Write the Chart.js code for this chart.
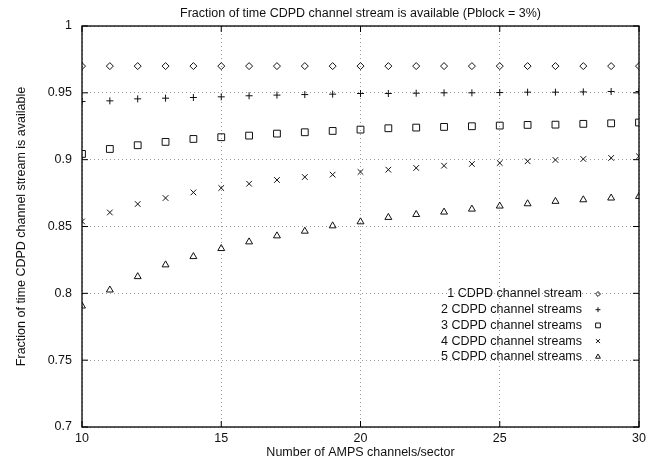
<!DOCTYPE html>
<html><head><meta charset="utf-8">
<script src="https://cdn.jsdelivr.net/npm/chart.js@4/dist/chart.umd.min.js"></script>
<style>html,body{margin:0;padding:0;background:#fff}</style>
</head><body>
<canvas id="c" width="657" height="463" style="width:657px;height:463px"></canvas>
<script>
const channels = [10,11,12,13,14,15,16,17,18,19,20,21,22,23,24,25,26,27,28,29,30];
const oneStream   = [0.970,0.970,0.970,0.970,0.970,0.970,0.970,0.970,0.970,0.970,0.970,0.970,0.970,0.970,0.970,0.970,0.970,0.970,0.970,0.970,0.970];
const twoStreams  = [0.9435,0.944,0.9455,0.946,0.9465,0.947,0.9478,0.9483,0.9487,0.949,0.9495,0.9495,0.9497,0.950,0.950,0.9502,0.9505,0.9505,0.9507,0.951,0.951];
const threeStreams= [0.9043,0.908,0.9108,0.9133,0.9155,0.9168,0.918,0.9195,0.9205,0.9215,0.9225,0.9235,0.924,0.9245,0.925,0.9255,0.926,0.9262,0.9268,0.9272,0.9278];
const fourStreams = [0.8538,0.8605,0.8668,0.8713,0.8755,0.8788,0.882,0.8848,0.887,0.8888,0.8908,0.8925,0.8938,0.8955,0.8968,0.8975,0.8988,0.8998,0.9005,0.9013,0.9025];
const fiveStreams = [0.7905,0.8025,0.8125,0.8213,0.8275,0.8335,0.8385,0.843,0.8465,0.8505,0.8535,0.8568,0.859,0.8608,0.863,0.8653,0.867,0.8688,0.87,0.8713,0.8725];
const seriesLabels = ['1 CDPD channel stream','2 CDPD channel streams','3 CDPD channel streams','4 CDPD channel streams','5 CDPD channel streams'];
const xTicks = [10,15,20,25,30];
const yTicks = [0.7,0.75,0.8,0.85,0.9,0.95,1];

const FONT = '"Liberation Sans", Arial, Helvetica, sans-serif';
const styles = [
  {pointStyle:'rectRot', radius:3.5},
  {pointStyle:'cross', radius:3.5},
  {pointStyle:'rect', radius:4.8},
  {pointStyle:'crossRot', radius:4},
  {pointStyle:'triangle', radius:4}
];
const allSeries = [oneStream,twoStreams,threeStreams,fourStreams,fiveStreams];
const datasets = allSeries.map((vals,i)=>({
  label: seriesLabels[i],
  data: channels.map((c,j)=>({x:c,y:vals[j]})),
  showLine:false,
  pointStyle: styles[i].pointStyle,
  pointRadius: styles[i].radius,
  pointHoverRadius: styles[i].radius,
  pointBorderWidth: 1,
  borderColor:'#000',
  backgroundColor:'rgba(0,0,0,0)',
  pointBackgroundColor:'rgba(0,0,0,0)',
  pointBorderColor:'#111'
}));

function drawMarker(ctx, style, radius, x, y){
  if (Chart.helpers && Chart.helpers.drawPoint){
    Chart.helpers.drawPoint(ctx,{pointStyle:style,radius:radius,borderWidth:1,rotation:0},x,y);
  }
}

const framePlugin = {
  id:'frame',
  afterDatasetsDraw(chart){
    const {ctx, chartArea:a, scales} = chart;
    ctx.save();
    ctx.strokeStyle='#000';
    ctx.lineWidth=1.3;
    ctx.strokeRect(a.left, a.top, a.right-a.left, a.bottom-a.top);
    ctx.lineWidth=1;
    const L=6;
    ctx.beginPath();
    xTicks.forEach(v=>{
      const px=scales.x.getPixelForValue(v);
      ctx.moveTo(px,a.bottom); ctx.lineTo(px,a.bottom-L);
      ctx.moveTo(px,a.top); ctx.lineTo(px,a.top+L);
    });
    yTicks.forEach(v=>{
      const py=scales.y.getPixelForValue(v);
      ctx.moveTo(a.left,py); ctx.lineTo(a.left+L,py);
      ctx.moveTo(a.right,py); ctx.lineTo(a.right-L,py);
    });
    ctx.stroke();
    // legend
    ctx.font = '12.5px '+FONT;
    ctx.textAlign='right';
    ctx.textBaseline='middle';
    const textRight = a.right - 57;
    const markX = a.right - 41;
    const top = a.top + 268;
    const step = 15.7;
    chart.data.datasets.forEach((ds,i)=>{
      const y = top + i*step;
      ctx.fillStyle='#111';
      ctx.fillText(ds.label, textRight, y);
      ctx.strokeStyle='#111'; ctx.fillStyle='rgba(0,0,0,0)';
      drawMarker(ctx, ds.pointStyle, ds.pointRadius*0.7, markX, y);
    });
    ctx.restore();
  }
};

new Chart(document.getElementById('c'),{
  type:'scatter',
  data:{datasets},
  plugins:[framePlugin],
  options:{
    responsive:false,
    animation:false,
    layout:{padding:{left:0,right:18,top:0,bottom:0}},
    plugins:{
      legend:{display:false},
      tooltip:{enabled:false},
      title:{display:true,fullSize:false,text:'Fraction of time CDPD channel stream is available (Pblock = 3%)',
        color:'#111',font:{family:FONT,size:12.5,weight:'normal'},padding:{top:6,bottom:5}}
    },
    scales:{
      x:{type:'linear',min:10,max:30,
        afterBuildTicks(s){s.ticks=xTicks.map(v=>({value:v}));},
        afterFit(s){s.height=36;},
        grid:{color:'#999',lineWidth:1,drawTicks:false},
        border:{display:false,dash:[1,3]},
        ticks:{color:'#111',font:{family:FONT,size:12.5},padding:4,maxRotation:0},
        title:{display:true,text:'Number of AMPS channels/sector',color:'#111',font:{family:FONT,size:12.5},padding:{top:0,bottom:3}}
      },
      y:{type:'linear',min:0.7,max:1,
        afterBuildTicks(s){s.ticks=yTicks.map(v=>({value:v}));},
        afterFit(s){s.width=82;},
        grid:{color:'#999',lineWidth:1,drawTicks:false},
        border:{display:false,dash:[1,3]},
        ticks:{color:'#111',font:{family:FONT,size:12.5},padding:10,
          callback:v=>String(Number(v.toFixed(2)))},
        title:{display:true,text:'Fraction of time CDPD channel stream is available',color:'#111',font:{family:FONT,size:12.5},padding:{top:14,bottom:4}}
      }
    }
  }
});
</script>
</body></html>
